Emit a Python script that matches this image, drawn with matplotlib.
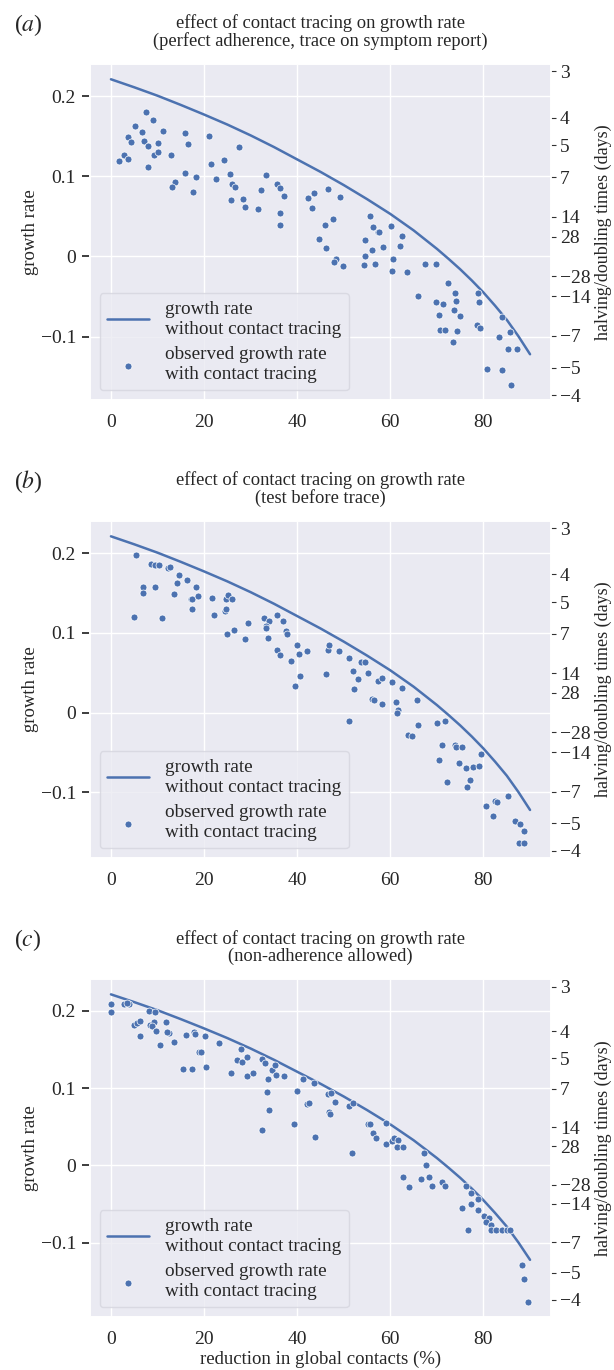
import numpy as np
import matplotlib
matplotlib.use("Agg")
import matplotlib.pyplot as plt
import seaborn as sns

# growth rate without contact tracing (same in all panels)
line_x = [0, 5, 10, 15, 20, 25, 30, 35, 40, 45, 50, 55, 60, 65, 70, 72.5, 75,
          77.5, 80, 82.5, 85, 87.5, 90]
line_y = [0.221, 0.211, 0.2005, 0.189, 0.177, 0.1645, 0.151, 0.1365, 0.121, 0.1055,
          0.089, 0.0715, 0.053, 0.0325, 0.0095, -0.003, -0.016, -0.030, -0.045,
          -0.0615, -0.079, -0.0995, -0.122]

# (a) perfect adherence, trace on symptom report
xa = [7.6, 9.0, 5.1, 11.1, 6.6, 15.8, 3.6, 21.0, 4.4, 7.1,
      10.1, 7.9, 16.5, 27.5, 2.8, 9.2, 10.2, 12.8, 3.6, 1.7,
      7.9, 24.2, 21.5, 15.8, 13.8, 13.1, 18.2, 17.7, 22.5, 25.5,
      26.0, 26.7, 33.2, 25.7, 28.3, 28.8, 31.6, 32.2, 35.7, 36.4,
      37.1, 36.2, 36.3, 42.3, 43.7, 43.1, 46.7, 49.1, 47.7, 45.9,
      44.6, 46.1, 48.1, 48.3, 47.8, 49.8, 55.6, 56.3, 57.3, 57.6,
      60.1, 62.5, 62.0, 58.5, 54.6, 56.1, 54.5, 60.5, 54.3, 56.7,
      60.3, 63.6, 67.5, 69.9, 66.0, 72.3, 73.9, 74.1, 69.7, 71.3,
      70.5, 73.7, 74.9, 70.6, 71.7, 74.3, 73.4, 78.9, 79.1, 78.7,
      79.3, 83.9, 83.4, 85.6, 85.3, 87.3, 80.7, 84.0, 85.9]
ya = [0.180, 0.170, 0.163, 0.157, 0.155, 0.154, 0.149, 0.150, 0.143, 0.144,
      0.141, 0.138, 0.140, 0.137, 0.127, 0.127, 0.130, 0.127, 0.122, 0.119,
      0.111, 0.120, 0.115, 0.104, 0.093, 0.087, 0.099, 0.080, 0.096, 0.103,
      0.090, 0.087, 0.101, 0.071, 0.072, 0.062, 0.059, 0.083, 0.090, 0.085,
      0.076, 0.054, 0.039, 0.073, 0.079, 0.061, 0.084, 0.074, 0.047, 0.039,
      0.022, 0.011, -0.004, -0.003, -0.007, -0.012, 0.051, 0.037, 0.031, 0.030,
      0.038, 0.026, 0.013, 0.012, 0.020, 0.008, 0.000, -0.003, -0.011, -0.009,
      -0.018, -0.020, -0.009, -0.009, -0.049, -0.033, -0.045, -0.055, -0.057, -0.059,
      -0.073, -0.067, -0.074, -0.092, -0.092, -0.093, -0.107, -0.046, -0.057, -0.085,
      -0.089, -0.076, -0.101, -0.094, -0.116, -0.115, -0.141, -0.142, -0.160]

# (b) test before trace
xb = [5.3, 8.6, 9.5, 10.3, 12.2, 12.7, 14.7, 16.3, 14.2, 6.8,
      9.4, 6.9, 18.2, 13.6, 17.2, 17.5, 18.8, 21.8, 24.6, 25.1,
      26.0, 5.0, 11.0, 17.5, 22.1, 24.5, 24.8, 25.0, 26.5, 28.7,
      29.4, 32.9, 33.9, 33.2, 33.4, 33.8, 35.6, 36.9, 37.6, 37.9,
      35.6, 36.3, 38.6, 40.0, 40.3, 42.1, 39.6, 40.7, 46.1, 46.7,
      46.9, 49.0, 51.2, 53.7, 54.5, 55.3, 51.9, 53.1, 52.3, 57.3,
      58.3, 60.3, 62.4, 56.1, 56.4, 58.3, 61.3, 61.6, 61.5, 65.7,
      65.9, 63.7, 64.7, 51.1, 70.0, 71.7, 71.0, 70.5, 72.1, 73.9,
      74.1, 75.4, 74.7, 76.3, 77.7, 79.1, 79.4, 77.1, 76.4, 85.3,
      80.6, 82.4, 82.8, 82.1, 86.8, 87.9, 88.8, 87.7, 88.8]
yb = [0.197, 0.186, 0.185, 0.185, 0.181, 0.183, 0.173, 0.166, 0.162, 0.157,
      0.158, 0.150, 0.157, 0.149, 0.142, 0.142, 0.146, 0.144, 0.142, 0.147,
      0.142, 0.120, 0.118, 0.130, 0.122, 0.127, 0.130, 0.098, 0.103, 0.092,
      0.112, 0.118, 0.115, 0.108, 0.106, 0.094, 0.123, 0.115, 0.102, 0.098,
      0.078, 0.072, 0.065, 0.085, 0.073, 0.077, 0.034, 0.046, 0.048, 0.078,
      0.085, 0.077, 0.068, 0.064, 0.063, 0.050, 0.052, 0.042, 0.030, 0.040,
      0.043, 0.039, 0.031, 0.017, 0.016, 0.011, 0.013, 0.003, 0.000, 0.016,
      -0.015, -0.028, -0.029, -0.011, -0.013, -0.010, -0.040, -0.059, -0.087, -0.041,
      -0.043, -0.043, -0.063, -0.070, -0.068, -0.067, -0.052, -0.084, -0.093, -0.105,
      -0.117, -0.111, -0.112, -0.129, -0.136, -0.139, -0.148, -0.163, -0.163]

# (c) non-adherence allowed
xc = [0.0, 0.1, 2.9, 3.8, 3.4, 8.2, 9.5, 4.9, 5.6, 6.3,
      8.4, 9.3, 8.8, 9.7, 11.8, 12.4, 12.1, 6.3, 10.5, 13.5,
      16.1, 17.8, 18.1, 20.1, 23.2, 19.0, 19.4, 15.5, 17.3, 20.5,
      25.8, 27.0, 28.2, 28.0, 29.3, 29.2, 30.5, 32.4, 33.0, 34.6,
      35.3, 35.5, 33.7, 37.2, 33.5, 33.9, 32.4, 39.9, 41.2, 43.6,
      42.1, 42.6, 39.4, 43.9, 46.6, 47.3, 48.2, 46.8, 47.1, 51.2,
      51.9, 51.8, 55.2, 55.6, 56.3, 57.0, 59.0, 59.0, 60.3, 60.8,
      61.6, 61.4, 62.7, 62.8, 63.9, 66.5, 67.3, 67.7, 68.2, 69.0,
      71.0, 71.8, 75.3, 76.2, 76.7, 77.4, 77.4, 78.9, 78.9, 80.2,
      81.1, 80.6, 81.6, 81.6, 82.6, 84.0, 85.1, 85.6, 88.3, 88.7, 89.5]
yc = [0.209, 0.198, 0.209, 0.208, 0.210, 0.199, 0.198, 0.181, 0.184, 0.186,
      0.181, 0.185, 0.180, 0.174, 0.185, 0.171, 0.172, 0.167, 0.156, 0.160,
      0.168, 0.173, 0.170, 0.167, 0.158, 0.147, 0.146, 0.125, 0.125, 0.127,
      0.120, 0.136, 0.133, 0.150, 0.140, 0.116, 0.119, 0.137, 0.132, 0.123,
      0.130, 0.117, 0.112, 0.115, 0.095, 0.072, 0.046, 0.096, 0.112, 0.106,
      0.079, 0.080, 0.053, 0.037, 0.092, 0.093, 0.082, 0.069, 0.066, 0.077,
      0.080, 0.016, 0.054, 0.054, 0.042, 0.036, 0.055, 0.028, 0.031, 0.036,
      0.033, 0.024, 0.024, -0.015, -0.028, -0.018, 0.016, 0.001, -0.015, -0.027,
      -0.021, -0.026, -0.055, -0.026, -0.084, -0.035, -0.050, -0.057, -0.043, -0.065,
      -0.068, -0.073, -0.077, -0.084, -0.084, -0.083, -0.084, -0.083, -0.129, -0.147, -0.176]

subtitles = ["(perfect adherence, trace on symptom report)",
             "(test before trace)",
             "(non-adherence allowed)"]
letters = ["a", "b", "c"]
xticks = [0, 20, 40, 60, 80]
yticks = [-0.1, 0, 0.1, 0.2]
ytick_labels = ["\u22120.1", "0", "0.1", "0.2"]
days = [3, 4, 5, 7, 14, 28, -28, -14, -7, -5, -4]

sns.set_theme(style="darkgrid")
plt.rcParams["font.family"] = ["Liberation Serif", "DejaVu Serif"]
plt.rcParams["mathtext.fontset"] = "stix"

col = "#4C72B0"
W, H = 614, 1370
fig = plt.figure(figsize=(W / 100, H / 100), dpi=100)

# axes boxes in pixels: left, top, right, bottom
boxes = [(90, 64, 551, 400), (90, 521, 551, 858), (90, 979, 551, 1317)]
data = [(xa, ya), (xb, yb), (xc, yc)]

for i in range(3):
    l, t, r, b = boxes[i]
    ax = fig.add_axes([l / W, 1 - b / H, (r - l) / W, (b - t) / H])
    x, y = data[i]
    ax.plot(line_x, line_y, color=col, lw=1.8,
            label="growth rate\nwithout contact tracing", zorder=3)
    ax.scatter(x, y, s=25, color=col, edgecolor="white", linewidth=0.5,
               label="observed growth rate\nwith contact tracing", zorder=4)
    ax.set_xticks(xticks)
    ax.set_yticks(yticks)
    ax.set_yticklabels(ytick_labels)
    ax.tick_params(labelsize=14, pad=4)
    ax.set_ylabel("growth rate", fontsize=13.5, labelpad=1)
    ax.set_title("effect of contact tracing on growth rate\n" + subtitles[i],
                 fontsize=13.3, pad=13, linespacing=1.0)
    leg = ax.legend(loc="lower left", fontsize=13.8, frameon=True,
                    handlelength=2.2, borderaxespad=0.5, labelspacing=0.45)
    leg.get_frame().set_facecolor("#EAEAF2")
    leg.get_frame().set_edgecolor("#d5d5de")
    if i == 2:
        ax.set_xlabel("reduction in global contacts (%)", fontsize=13.5, labelpad=2)

    ax2 = ax.twinx()
    ax2.set_ylim(ax.get_ylim())
    ax2.grid(False)
    ax2.set_yticks([np.log(2) / d for d in days])
    ax2.set_yticklabels([str(d).replace("-", "\u2212") for d in days])
    ax2.tick_params(axis="y", right=True, length=3.5, width=0.8, color="#333333",
                    labelsize=14, pad=3)
    ax2.set_ylabel("halving/doubling times (days)", fontsize=13, labelpad=3)

    fig.text(14 / W, 1 - (t - 39) / H, "($\\mathit{" + letters[i] + "}$)",
             fontsize=17, va="center", ha="left")

fig.savefig("out.png", dpi=100)
